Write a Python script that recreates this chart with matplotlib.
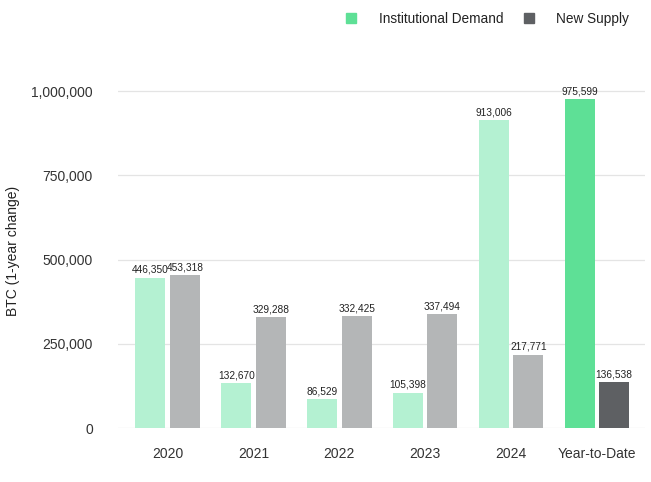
import numpy as np
import matplotlib.pyplot as plt
from matplotlib.lines import Line2D
from matplotlib.ticker import FuncFormatter

plt.rcParams['font.family'] = ['Liberation Sans', 'DejaVu Sans']

categories = ["2020", "2021", "2022", "2023", "2024", "Year-to-Date"]
demand = [446350, 132670, 86529, 105398, 913006, 975599]
supply = [453318, 329288, 332425, 337494, 217771, 136538]

demand_colors = ["#b4f1d2"] * 5 + ["#5ee096"]
supply_colors = ["#b4b6b7"] * 5 + ["#5e6063"]

fig = plt.figure(figsize=(6.51, 4.82), dpi=100)
ax = fig.add_axes([0.181, 0.112, 0.81, 0.734])

x = np.arange(len(categories))
w = 0.35
off = 0.2
ax.bar(x - off, demand, w, color=demand_colors, zorder=2)
ax.bar(x + off, supply, w, color=supply_colors, zorder=2)

for xi, d, s in zip(x, demand, supply):
    ax.text(xi - off, d + 8000, f"{d:,}", ha="center", va="bottom", fontsize=7.3, color="#222222")
    ax.text(xi + off, s + 8000, f"{s:,}", ha="center", va="bottom", fontsize=7.3, color="#222222")

ax.set_xlim(-0.58, 5.56)
ax.set_ylim(0, 1050000)
ax.set_yticks([0, 250000, 500000, 750000, 1000000])
ax.yaxis.set_major_formatter(FuncFormatter(lambda v, p: f"{int(v):,}"))
ax.set_xticks(x)
ax.set_xticklabels(categories)
ax.tick_params(axis="both", length=0, labelsize=10, labelcolor="#333333")
ax.tick_params(axis="y", pad=18)
ax.tick_params(axis="x", pad=14)
ax.grid(axis="y", color="#e4e4e4", linewidth=0.9, zorder=0)
for sp in ax.spines.values():
    sp.set_visible(False)
ax.set_ylabel("BTC (1-year change)", fontsize=10, color="#222222", labelpad=8)

handles = [
    Line2D([], [], marker="s", linestyle="none", markersize=7, color="#5ee096"),
    Line2D([], [], marker="s", linestyle="none", markersize=7, color="#5e6063"),
]
fig.legend(handles, ["Institutional Demand", "New Supply"], loc="upper right",
           bbox_to_anchor=(0.985, 1.0), ncol=2, frameon=False, fontsize=9.8,
           handletextpad=1.0, columnspacing=0.9, labelcolor="#222222")

fig.savefig("out.png", dpi=100)
